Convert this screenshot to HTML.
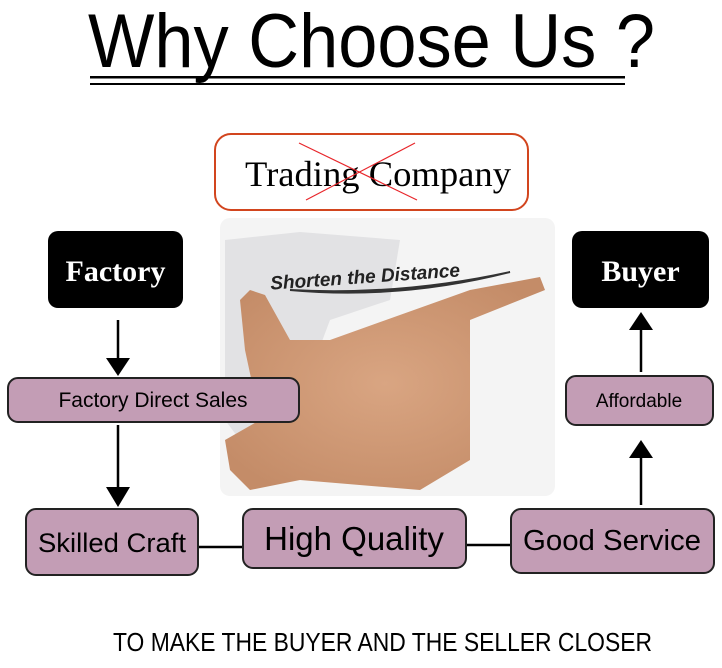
<!DOCTYPE html>
<html><head><meta charset="utf-8"><style>
body{margin:0;background:#fff}
</style></head><body>
<svg width="722" height="663" viewBox="0 0 722 663" xmlns="http://www.w3.org/2000/svg" font-family="Liberation Sans, sans-serif">
<defs>
<marker id="ah" markerWidth="10" markerHeight="10" refX="5" refY="5" orient="auto" markerUnits="userSpaceOnUse">
</marker>
<radialGradient id="sk" cx="0.5" cy="0.5" r="0.6"><stop offset="0" stop-color="#d9a582"/><stop offset="1" stop-color="#c48c68"/></radialGradient>
</defs>
<text x="88" y="67" font-size="76" textLength="567" lengthAdjust="spacingAndGlyphs">Why Choose  Us ?</text>
<rect x="90" y="76" width="535" height="2.5" fill="#000"/>
<rect x="90" y="83" width="535" height="2" fill="#000"/>

<rect x="215" y="134" width="313" height="76" rx="16" fill="#fff" stroke="#d2451e" stroke-width="2"/>
<text x="245" y="186" font-family="Liberation Serif, serif" font-size="36" textLength="266" lengthAdjust="spacingAndGlyphs">Trading Company</text>
<line x1="299" y1="143" x2="417" y2="200" stroke="#e8262b" stroke-width="1.2"/>
<line x1="306" y1="200" x2="415" y2="143" stroke="#e8262b" stroke-width="1.2"/>

<rect x="220" y="218" width="335" height="278" rx="10" fill="#f4f4f4"/>
<path d="M225 240 L300 232 L400 240 L390 300 L330 320 L300 400 L240 440 L225 420Z" fill="#e2e2e4"/>
<path d="M300 480 L250 490 L230 470 L225 440 L260 420 L245 350 L240 300 L250 290 L265 295 L290 340 L330 340 L470 290 L540 277 L545 290 L470 320 L470 400 L470 460 L420 490Z" fill="url(#sk)"/>
<text x="270" y="282" font-size="19" font-weight="bold" font-style="italic" fill="#222" transform="rotate(-4 380 275)">Shorten the Distance</text>
<path d="M290 290 Q400 300 510 272 Q400 296 290 290Z" stroke="#333" stroke-width="2" fill="none"/>

<rect x="48" y="231" width="135" height="77" rx="10" fill="#000"/>
<text x="115.5" y="281" text-anchor="middle" font-family="Liberation Serif, serif" font-weight="bold" font-size="30" fill="#fff">Factory</text>
<rect x="572" y="231" width="137" height="77" rx="10" fill="#000"/>
<text x="640.5" y="281" text-anchor="middle" font-family="Liberation Serif, serif" font-weight="bold" font-size="30" fill="#fff">Buyer</text>

<g stroke="#000" stroke-width="2.5">
<line x1="118" y1="320" x2="118" y2="365"/>
<line x1="118" y1="425" x2="118" y2="495"/>
<line x1="641" y1="505" x2="641" y2="452"/>
<line x1="641" y1="372" x2="641" y2="324"/>
<line x1="198" y1="547" x2="243" y2="547"/>
<line x1="466" y1="545" x2="511" y2="545"/>
</g>
<g fill="#000">
<path d="M106 358 L130 358 L118 376Z"/>
<path d="M106 487 L130 487 L118 507Z"/>
<path d="M629 458 L653 458 L641 440Z"/>
<path d="M629 330 L653 330 L641 312Z"/>
</g>

<g fill="#c39db5" stroke="#222" stroke-width="2">
<rect x="8" y="378" width="291" height="44" rx="10"/>
<rect x="566" y="376" width="147" height="49" rx="10"/>
<rect x="26" y="509" width="172" height="66" rx="10"/>
<rect x="243" y="509" width="223" height="59" rx="10"/>
<rect x="511" y="509" width="203" height="64" rx="10"/>
</g>
<text x="153" y="407" text-anchor="middle" font-size="21">Factory Direct Sales</text>
<text x="639" y="407" text-anchor="middle" font-size="19">Affordable</text>
<text x="112" y="552" text-anchor="middle" font-size="27" textLength="148" lengthAdjust="spacingAndGlyphs">Skilled Craft</text>
<text x="354" y="550" text-anchor="middle" font-size="33">High Quality</text>
<text x="612" y="550" text-anchor="middle" font-size="29" textLength="178" lengthAdjust="spacingAndGlyphs">Good Service</text>

<text x="113" y="651" font-size="26" textLength="539" lengthAdjust="spacingAndGlyphs">TO MAKE THE BUYER AND THE SELLER CLOSER</text>
</svg>
</body></html>
